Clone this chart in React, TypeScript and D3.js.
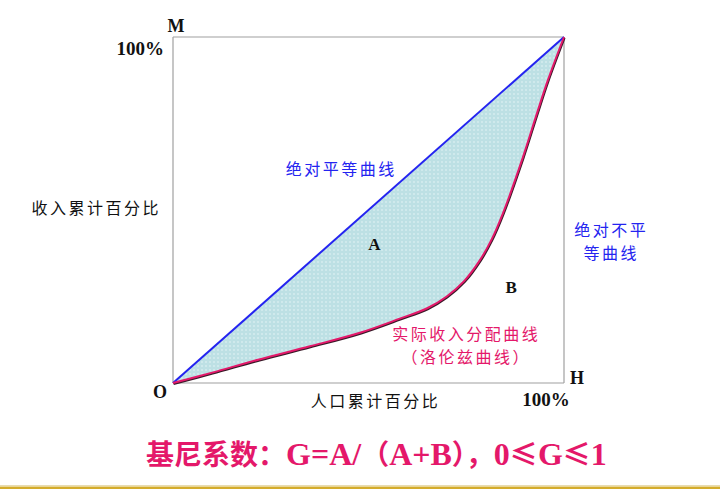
import { useEffect, useRef } from 'react'
import * as d3 from 'd3'

// cumulative population share (%) and the matching cumulative income share (%)
const populationPct = [0, 10, 22, 35, 48, 58, 65, 70, 74.5, 78.5, 81.5, 84.4, 89.5, 93.1, 95.9, 100]
const incomePct = [0, 3.0, 6.8, 10.6, 14.6, 18.6, 21.6, 25.0, 29.5, 35.5, 41.5, 49.1, 65.3, 78, 87.6, 100]

const xTitle = '人口累计百分比'
const yTitle = '收入累计百分比'
const maxTick = '100%'
const equalityLabel = '绝对平等曲线'
const inequalityLabel = ['绝对不平', '等曲线']
const lorenzLabel = ['实际收入分配曲线', '（洛伦兹曲线）']
// formula pieces: [text, isCJK]
const formulaParts: [string, boolean][] = [
  ['基尼系数：', true], ['G=A/', false], ['（', true], ['A+B', false], ['），', true],
  ['0', false], ['≤', true], ['G', false], ['≤', true], ['1', false]
]

const CJK = '"Noto Sans CJK SC", "Noto Sans", sans-serif'
const SERIF = '"Liberation Serif", "DejaVu Serif", serif'
const BLUE = '#2424f0'
const PINK = '#e4186a'

export default function App() {
  const ref = useRef<SVGSVGElement>(null)

  useEffect(() => {
    if (!ref.current) return
    const svg = d3.select(ref.current)
    svg.selectAll('*').remove()

    const box = { left: 173, top: 37, right: 564, bottom: 383 }
    const x = d3.scaleLinear().domain([0, 100]).range([box.left, box.right])
    const y = d3.scaleLinear().domain([0, 100]).range([box.bottom, box.top])

    const data = populationPct.map((p, i) => ({ p, v: incomePct[i] }))

    // dotted fill pattern
    const defs = svg.append('defs')
    const pat = defs.append('pattern')
      .attr('id', 'dots')
      .attr('width', 4)
      .attr('height', 4)
      .attr('patternUnits', 'userSpaceOnUse')
    pat.append('rect').attr('width', 4).attr('height', 4).attr('fill', '#bde0e4')
    pat.append('circle').attr('cx', 2).attr('cy', 2).attr('r', 0.9).attr('fill', '#d8eef0')

    // frame
    const frame = svg.append('g').attr('stroke', '#a0a0a0').attr('stroke-width', 1.2).attr('fill', 'none')
    frame.append('line').attr('x1', x(0)).attr('x2', x(100)).attr('y1', y(100)).attr('y2', y(100))
    frame.append('line').attr('x1', x(0)).attr('x2', x(0)).attr('y1', y(0)).attr('y2', y(100))
    frame.append('line').attr('x1', x(100)).attr('x2', x(100)).attr('y1', y(0)).attr('y2', y(100))
    frame.append('line').attr('x1', x(0)).attr('x2', x(100)).attr('y1', y(0)).attr('y2', y(0))

    // area A between equality line and Lorenz curve
    const area = d3.area<{ p: number; v: number }>()
      .x(d => x(d.p))
      .y0(d => y(d.p))
      .y1(d => y(d.v))
      .curve(d3.curveCatmullRom.alpha(0.5))
    svg.append('path').datum(data).attr('d', area).attr('fill', 'url(#dots)')

    // equality line
    svg.append('line')
      .attr('x1', x(0)).attr('y1', y(0))
      .attr('x2', x(100)).attr('y2', y(100))
      .attr('stroke', BLUE)
      .attr('stroke-width', 2)

    // Lorenz curve with a dark shadow
    const line = d3.line<{ p: number; v: number }>()
      .x(d => x(d.p))
      .y(d => y(d.v))
      .curve(d3.curveCatmullRom.alpha(0.5))
    svg.append('path').datum(data).attr('d', line)
      .attr('fill', 'none').attr('stroke', '#3a1a28').attr('stroke-width', 2)
      .attr('transform', 'translate(0.6,1)')
    svg.append('path').datum(data).attr('d', line)
      .attr('fill', 'none').attr('stroke', PINK).attr('stroke-width', 2)

    const text = (tx: number, ty: number, s: string, opts: { size: number; fill?: string; font?: string; weight?: string; anchor?: string; spacing?: number }) =>
      svg.append('text')
        .attr('x', tx).attr('y', ty)
        .attr('font-size', opts.size)
        .attr('font-family', opts.font ?? SERIF)
        .attr('font-weight', opts.weight ?? 'bold')
        .attr('fill', opts.fill ?? '#111')
        .attr('text-anchor', opts.anchor ?? 'middle')
        .attr('letter-spacing', opts.spacing ?? 0)
        .text(s)

    const cjk = (tx: number, ty: number, s: string, fill = '#111') =>
      text(tx + 1.2, ty, s, { size: 16, font: CJK, weight: 'normal', fill, spacing: 2.5 })

    // corner letters and tick labels
    text(x(0) + 3, y(100) - 5, 'M', { size: 18 })
    text(x(0) - 9, y(100) + 18, maxTick, { size: 19, anchor: 'end' })
    text(x(0) - 13, y(0) + 15, 'O', { size: 18 })
    text(x(100) + 13, y(0) + 1, 'H', { size: 18 })
    text(x(100) - 18, y(0) + 23, maxTick, { size: 19 })
    text(x(51.5), y(38.5), 'A', { size: 17 })
    text(x(86.5), y(26), 'B', { size: 17 })

    // axis titles
    cjk(x(51.5), y(0) + 24, xTitle)
    cjk(95, 214, yTitle)

    // curve labels
    cjk(340, 175, equalityLabel, BLUE)
    inequalityLabel.forEach((s, i) => cjk(610, 236 + i * 23, s, BLUE))
    lorenzLabel.forEach((s, i) => cjk(465, 340 + i * 23, s, PINK))

    // formula
    const f = svg.append('text')
      .attr('x', 146).attr('y', 465)
      .attr('font-weight', 'bold')
      .attr('fill', PINK)
    formulaParts.forEach(([t, isCjk]) => {
      f.append('tspan')
        .attr('font-family', isCjk ? CJK : SERIF)
        .attr('font-size', isCjk ? 28 : 32)
        .text(t)
    })

    // bottom rule
    svg.append('rect').attr('x', 0).attr('y', 485).attr('width', 720).attr('height', 1).attr('fill', '#e8dcb0')
    svg.append('rect').attr('x', 0).attr('y', 486.5).attr('width', 720).attr('height', 2.5).attr('fill', '#d4ac2c')
  }, [])

  return (
    <svg
      ref={ref}
      width={720}
      height={491}
      style={{ position: 'absolute', left: 0, top: 0, display: 'block', background: '#fff' }}
    />
  )
}
